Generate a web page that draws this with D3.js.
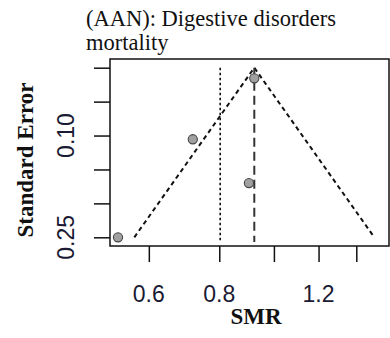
<!DOCTYPE html>
<html><head><meta charset="utf-8">
<script src="https://cdn.jsdelivr.net/npm/d3@7"></script>
<style>html,body{margin:0;padding:0;background:#fff;}svg{display:block;}</style>
</head><body>
<svg id="c" width="390" height="338"></svg>
<script>
// Data
const studySMR = [0.529, 0.718, 0.903, 0.923];
const studySE = [0.250, 0.1055, 0.170, 0.0156];
const pooledSMR = [0.923];
const refSMR = [0.803];
const xTicks = [0.6, 0.8, 1.0, 1.2, 1.4];
const xTickLabels = ["0.6", "0.8", "", "1.2", ""];
const yTicks = [0, 0.05, 0.10, 0.15, 0.20, 0.25];
const yTickLabels = ["", "", "0.10", "", "", "0.25"];
const titleLines = ["(AAN): Digestive disorders", "mortality"];

const svg = d3.select("#c");
const L = 110, R = 389, T = 59, B = 246;
const x = d3.scaleLog().domain([0.512, 1.600]).range([L, R]);
const y = d3.scaleLinear().domain([0, 0.25]).range([67.7, 237.3]);

// title
const title = svg.append("text").attr("font-family", "Liberation Serif, serif")
  .attr("font-size", 22.5).attr("fill", "#111");
titleLines.forEach((t, i) => title.append("tspan").attr("x", 86).attr("y", 26 + i * 24).text(t));

// funnel
const seMax = d3.max(studySE);
const p = pooledSMR[0];
const fun = [[Math.exp(Math.log(p) - 1.96 * seMax), seMax], [p, 0], [Math.exp(Math.log(p) + 1.96 * seMax), seMax]];
svg.append("path").attr("d", d3.line().x(d => x(d[0])).y(d => y(d[1]))(fun))
  .attr("fill", "none").attr("stroke", "#111").attr("stroke-width", 2).attr("stroke-dasharray", "4.5,3.5");

// reference dotted line
svg.append("line").attr("x1", x(refSMR[0])).attr("x2", x(refSMR[0]))
  .attr("y1", y(0)).attr("y2", B - 4)
  .attr("stroke", "#111").attr("stroke-width", 1.6).attr("stroke-dasharray", "2.5,2.5");
// pooled dashed line
svg.append("line").attr("x1", x(p)).attr("x2", x(p))
  .attr("y1", y(0)).attr("y2", B - 4)
  .attr("stroke", "#333").attr("stroke-width", 2).attr("stroke-dasharray", "9,5");

// points
svg.selectAll("circle.pt").data(studySMR).join("circle").attr("class", "pt")
  .attr("cx", d => x(d)).attr("cy", (d, i) => y(studySE[i])).attr("r", 4.6)
  .attr("fill", "#a0a0a0").attr("stroke", "#444").attr("stroke-width", 1.1);

// box
svg.append("rect").attr("x", L).attr("y", T).attr("width", R - L).attr("height", B - T)
  .attr("fill", "none").attr("stroke", "#111").attr("stroke-width", 1.5);

// axes
const ya = svg.append("g").attr("transform", `translate(${L},0)`)
  .call(d3.axisLeft(y).tickValues(yTicks).tickSize(16).tickSizeOuter(0).tickFormat(""));
ya.select(".domain").remove();
ya.selectAll("line").attr("stroke", "#111").attr("stroke-width", 1.5);
const xa = svg.append("g").attr("transform", `translate(0,${B})`)
  .call(d3.axisBottom(x).tickValues(xTicks).tickSize(16).tickSizeOuter(0).tickFormat(""));
xa.select(".domain").remove();
xa.selectAll("line").attr("stroke", "#111").attr("stroke-width", 1.5);

// tick labels
svg.selectAll("text.xl").data(xTicks).join("text").attr("class", "xl")
  .attr("x", d => x(d)).attr("y", 302).attr("text-anchor", "middle")
  .attr("font-family", "Liberation Sans, Arial, sans-serif").attr("font-size", 23).attr("fill", "#1a1a33")
  .text((d, i) => xTickLabels[i]);
svg.selectAll("text.yl").data(yTicks).join("text").attr("class", "yl")
  .attr("transform", d => `translate(74,${y(d)}) rotate(-90)`).attr("text-anchor", "middle")
  .attr("font-family", "Liberation Sans, Arial, sans-serif").attr("font-size", 23).attr("fill", "#1a1a33")
  .text((d, i) => yTickLabels[i]);

// axis titles
svg.append("text").attr("x", 256).attr("y", 324).attr("text-anchor", "middle")
  .attr("font-family", "Liberation Serif, serif").attr("font-weight", "bold").attr("font-size", 23).attr("fill", "#111")
  .text("SMR");
svg.append("text").attr("transform", "translate(33,160) rotate(-90)").attr("text-anchor", "middle")
  .attr("font-family", "Liberation Serif, serif").attr("font-weight", "bold").attr("font-size", 23).attr("fill", "#111")
  .text("Standard Error");
</script>
</body></html>
